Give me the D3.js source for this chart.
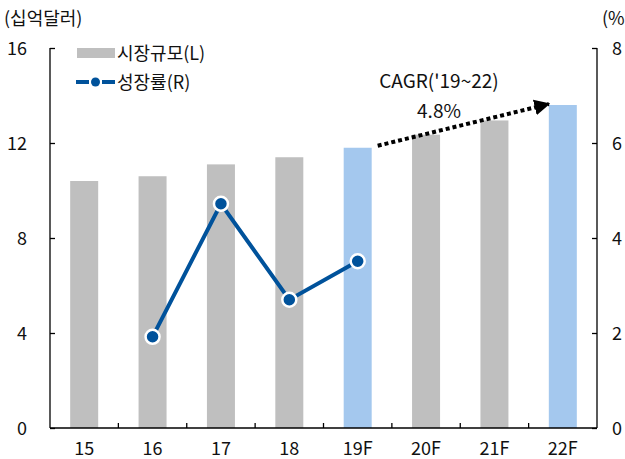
<!DOCTYPE html>
<html>
<head>
<meta charset="utf-8">
<script src="https://cdn.jsdelivr.net/npm/d3@7"></script>
<style>
  body { margin: 0; background: #fff; }
  text { font-family: "Noto Sans CJK KR", "Noto Sans", sans-serif; fill: #111; }
</style>
</head>
<body>
<svg id="chart" width="625" height="459"></svg>
<script>
const categories = ['15', '16', '17', '18', '19F', '20F', '21F', '22F'];
const marketSize = [10.4, 10.6, 11.1, 11.4, 11.8, 12.35, 12.95, 13.6];
const highlighted = ['19F', '22F'];
const growthCats = ['16', '17', '18', '19F'];
const growthRate = [1.92, 4.72, 2.7, 3.51];
const leftTicks = [0, 4, 8, 12, 16];
const rightTicks = [0, 2, 4, 6, 8];

const margin = { top: 48, right: 28, bottom: 31, left: 50 };
const W = 625, H = 459;
const fs = 18;
const svg = d3.select('#chart');

const x = d3.scaleBand().domain(categories).range([margin.left, W - margin.right]);
const yL = d3.scaleLinear().domain([0, 16]).range([H - margin.bottom, margin.top]);
const yR = d3.scaleLinear().domain([0, 8]).range([H - margin.bottom, margin.top]);
const barW = 28;

// bars
svg.append('g').selectAll('rect')
  .data(categories.map((c, i) => ({ c, v: marketSize[i] })))
  .join('rect')
  .attr('x', d => x(d.c) + x.bandwidth() / 2 - barW / 2)
  .attr('y', d => yL(d.v))
  .attr('width', barW)
  .attr('height', d => yL(0) - yL(d.v))
  .attr('fill', d => highlighted.includes(d.c) ? '#a4c8ee' : '#bfbfbf');

// axes
const axisL = svg.append('g')
  .attr('transform', `translate(${margin.left},0)`)
  .call(d3.axisRight(yL).tickValues(leftTicks).tickSize(5).tickFormat(''));
const axisR = svg.append('g')
  .attr('transform', `translate(${W - margin.right},0)`)
  .call(d3.axisLeft(yR).tickValues(rightTicks).tickSize(5).tickFormat(''));
[axisL, axisR].forEach(g => {
  g.select('.domain').attr('d', `M0,${yL(16)}V${yL(0)}`);
  g.selectAll('line, path').attr('stroke', '#000').attr('stroke-width', 1.3);
});

const bottom = svg.append('g')
  .attr('transform', `translate(0,${yL(0)})`);
bottom.append('line')
  .attr('x1', margin.left).attr('x2', W - margin.right)
  .attr('stroke', '#000').attr('stroke-width', 1.3);
bottom.selectAll('.tk').data(categories.slice(1))
  .join('line').attr('class', 'tk')
  .attr('x1', d => x(d)).attr('x2', d => x(d))
  .attr('y1', 0).attr('y2', -5)
  .attr('stroke', '#000').attr('stroke-width', 1.3);
bottom.selectAll('text').data(categories)
  .join('text')
  .attr('x', d => x(d) + x.bandwidth() / 2)
  .attr('y', 27)
  .attr('text-anchor', 'middle')
  .attr('font-size', fs)
  .text(d => d);

svg.append('g').selectAll('text').data(leftTicks).join('text')
  .attr('x', 27).attr('y', d => yL(d) + 6.5)
  .attr('text-anchor', 'end').attr('font-size', fs)
  .text(d => d);
svg.append('g').selectAll('text').data(rightTicks).join('text')
  .attr('x', 612).attr('y', d => yR(d) + 6.5)
  .attr('text-anchor', 'start').attr('font-size', fs)
  .text(d => d);

svg.append('text').attr('x', 4).attr('y', 25).attr('font-size', fs).text('(십억달러)');
svg.append('text').attr('x', 602).attr('y', 25).attr('font-size', fs).text('(%');

// growth line
const pts = growthCats.map((c, i) => [x(c) + x.bandwidth() / 2, yR(growthRate[i])]);
svg.append('path')
  .attr('d', d3.line()(pts))
  .attr('fill', 'none').attr('stroke', '#00529b').attr('stroke-width', 4);
svg.append('g').selectAll('circle').data(pts).join('circle')
  .attr('cx', d => d[0]).attr('cy', d => d[1]).attr('r', 7)
  .attr('fill', '#00529b').attr('stroke', '#fff').attr('stroke-width', 2.5);

// legend
const lg = svg.append('g');
lg.append('rect').attr('x', 77).attr('y', 48).attr('width', 38).attr('height', 10).attr('fill', '#bfbfbf');
lg.append('text').attr('x', 117).attr('y', 59.5).attr('font-size', fs).text('시장규모(L)');
lg.append('line').attr('x1', 76).attr('x2', 89).attr('y1', 82).attr('y2', 82)
  .attr('stroke', '#00529b').attr('stroke-width', 4);
lg.append('line').attr('x1', 102).attr('x2', 115).attr('y1', 82).attr('y2', 82)
  .attr('stroke', '#00529b').attr('stroke-width', 4);
lg.append('circle').attr('cx', 95.5).attr('cy', 82).attr('r', 4.5).attr('fill', '#00529b');
lg.append('text').attr('x', 117).attr('y', 88.5).attr('font-size', fs).text('성장률(R)');

// CAGR annotation
const defs = svg.append('defs');
defs.append('marker').attr('id', 'arr')
  .attr('viewBox', '0 0 10 10').attr('refX', 9).attr('refY', 5)
  .attr('markerWidth', 4).attr('markerHeight', 4).attr('orient', 'auto')
  .attr('markerUnits', 'strokeWidth')
  .append('path').attr('d', 'M0,0L10,5L0,10Z').attr('fill', '#000');
const a0 = [x('19F') + x.bandwidth() / 2 + 20, yL(marketSize[4]) - 2];
const a1 = [x('22F') + x.bandwidth() / 2 - 14, yL(marketSize[7]) - 1];
svg.append('line')
  .attr('x1', a0[0]).attr('y1', a0[1]).attr('x2', a1[0]).attr('y2', a1[1])
  .attr('stroke', '#000').attr('stroke-width', 4).attr('stroke-dasharray', '4,3')
  .attr('marker-end', 'url(#arr)');
svg.append('text').attr('x', 439).attr('y', 88).attr('text-anchor', 'middle')
  .attr('font-size', 19).text("CAGR('19~22)");
svg.append('text').attr('x', 439).attr('y', 118).attr('text-anchor', 'middle')
  .attr('font-size', 19).text('4.8%');
</script>
</body>
</html>
